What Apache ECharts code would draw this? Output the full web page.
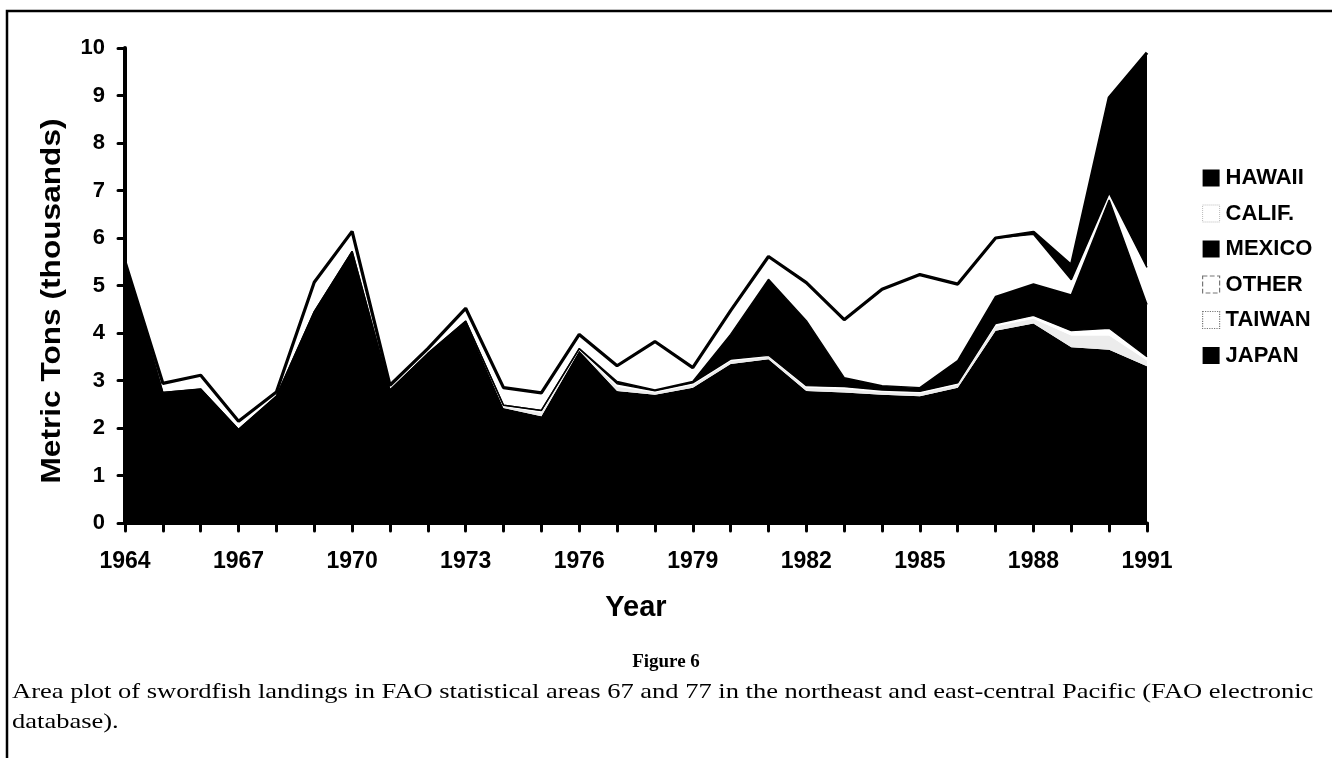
<!DOCTYPE html>
<html>
<head>
<meta charset="utf-8">
<script src="https://cdn.jsdelivr.net/npm/echarts@6/dist/echarts.min.js"></script>
<style>
  html, body { margin: 0; padding: 0; background: #fff; }
  #main { width: 1332px; height: 758px; }
</style>
</head>
<body>
<div id="main"></div>
<script>
// landings, thousands of metric tons
var years = ['1964', '1965', '1966', '1967', '1968', '1969', '1970', '1971', '1972', '1973',
  '1974', '1975', '1976', '1977', '1978', '1979', '1980', '1981', '1982', '1983',
  '1984', '1985', '1986', '1987', '1988', '1989', '1990', '1991']
var japan = [5.5, 2.75, 2.82, 1.97, 2.67, 4.45, 5.72, 2.8, 3.57, 4.25,
  2.42, 2.25, 3.63, 2.78, 2.7, 2.85, 3.35, 3.45, 2.78, 2.75,
  2.7, 2.67, 2.85, 4.05, 4.2, 3.7, 3.65, 3.3]
var taiwan = [0, 0, 0, 0, 0, 0, 0, 0, 0, 0,
  0.04, 0.07, 0.02, 0.09, 0.05, 0.06, 0.06, 0.05, 0.07, 0.07,
  0.06, 0.06, 0.06, 0.09, 0.1, 0.25, 0.3, 0.12]
var other = [0, 0, 0, 0, 0, 0, 0, 0, 0, 0,
  0.02, 0.05, 0.02, 0.06, 0.03, 0.04, 0.04, 0.03, 0.04, 0.05,
  0.04, 0.04, 0.04, 0.06, 0.07, 0.1, 0.15, 0.08]
var mexico = [0, 0, 0, 0, 0, 0, 0, 0, 0, 0,
  0, 0, 0, 0.05, 0.02, 0.03, 0.52, 1.6, 1.37, 0.19,
  0.09, 0.08, 0.47, 0.57, 0.66, 0.75, 2.7, 1.1]
var calif = [0, 0.19, 0.29, 0.17, 0.09, 0.62, 0.42, 0.1, 0.1, 0.27,
  0.37, 0.37, 0.3, 0.33, 1.02, 0.29, 0.5, 0.48, 0.8, 1.22,
  2.03, 2.38, 1.61, 1.23, 1.05, 0.32, 0.15, 0.78]
var hawaii = [0, 0, 0, 0, 0, 0, 0, 0, 0, 0,
  0, 0, 0, 0, 0, 0, 0, 0, 0, 0,
  0, 0, 0, 0, 0.04, 0.3, 2.0, 4.52]

var sans = 'Liberation Sans'
var serif = 'Liberation Serif'

function area (name, data, fill, lineW) {
  return {
    name: name,
    type: 'line',
    stack: 'all',
    data: data,
    symbol: 'none',
    itemStyle: { color: fill },
    lineStyle: { color: '#000', width: lineW },
    areaStyle: { color: fill, opacity: 1 }
  }
}

var myChart = echarts.init(document.getElementById('main'))
var option = {
  animation: false,
  backgroundColor: '#fff',
  graphic: [
    {
      type: 'rect',
      shape: { x: 7, y: 11, width: 1360, height: 780 },
      style: { fill: null, stroke: '#000', lineWidth: 2.5 }
    },
    {
      // y axis title, stretched a little like the printed one
      type: 'text',
      x: 52,
      y: 301,
      rotation: Math.PI / 2,
      scaleX: 1.13,
      style: {
        text: 'Metric Tons (thousands)',
        font: 'bold 28px "Liberation Sans"',
        fill: '#000',
        align: 'center',
        verticalAlign: 'middle'
      }
    },
    {
      type: 'text',
      x: 666,
      y: 662,
      style: {
        text: 'Figure 6',
        font: 'bold 19px "Liberation Serif"',
        fill: '#000',
        align: 'center',
        verticalAlign: 'middle'
      }
    },
    {
      type: 'text',
      x: 12,
      y: 692,
      scaleX: 1.205,
      style: {
        text: 'Area plot of swordfish landings in FAO statistical areas 67 and 77 in the northeast and east-central Pacific (FAO electronic',
        font: '22px "Liberation Serif"',
        fill: '#000',
        align: 'left',
        verticalAlign: 'middle'
      }
    },
    {
      type: 'text',
      x: 12,
      y: 722,
      scaleX: 1.205,
      style: {
        text: 'database).',
        font: '22px "Liberation Serif"',
        fill: '#000',
        align: 'left',
        verticalAlign: 'middle'
      }
    }
  ],
  legend: {
    orient: 'vertical',
    left: 1197,
    top: 162,
    itemWidth: 17,
    itemHeight: 17,
    itemGap: 13.5,
    icon: 'rect',
    textStyle: { fontFamily: sans, fontWeight: 'bold', fontSize: 22, color: '#000', lineHeight: 18, padding: [0, 0, 0, 1] },
    data: [
      { name: 'HAWAII', itemStyle: { color: '#000', borderWidth: 0 } },
      { name: 'CALIF.', itemStyle: { color: '#fff', borderColor: '#bbb', borderWidth: 1, borderType: 'dotted' } },
      { name: 'MEXICO', itemStyle: { color: '#000', borderWidth: 0 } },
      { name: 'OTHER', itemStyle: { color: '#fff', borderColor: '#777', borderWidth: 1.2, borderType: 'dashed' } },
      { name: 'TAIWAN', itemStyle: { color: '#fff', borderColor: '#777', borderWidth: 1.2, borderType: 'dotted' } },
      { name: 'JAPAN', itemStyle: { color: '#000', borderWidth: 0 } }
    ]
  },
  grid: {
    left: 125,
    right: 185,
    top: 48,
    bottom: 235,
    containLabel: false
  },
  xAxis: {
    type: 'category',
    data: years,
    boundaryGap: false,
    name: 'Year',
    nameLocation: 'middle',
    nameGap: 70,
    nameTextStyle: { fontFamily: sans, fontWeight: 'bold', fontSize: 29, color: '#000' },
    axisLine: { lineStyle: { color: '#000', width: 3 } },
    axisTick: { interval: 0, length: 8, lineStyle: { color: '#000', width: 3, cap: 'round' } },
    axisLabel: { interval: 2, margin: 27, fontFamily: sans, fontWeight: 'bold', fontSize: 23, color: '#000' },
    splitLine: { show: false }
  },
  yAxis: {
    type: 'value',
    min: 0,
    max: 10,
    interval: 1,
    axisLine: { show: true, lineStyle: { color: '#000', width: 4 } },
    axisTick: { show: true, length: 7, lineStyle: { color: '#000', width: 3, cap: 'round' } },
    axisLabel: { margin: 20, fontFamily: sans, fontWeight: 'bold', fontSize: 22, color: '#000' },
    splitLine: { show: false }
  },
  series: [
    area('JAPAN', japan, '#000', 0),
    area('TAIWAN', taiwan, '#ececec', 0),
    area('OTHER', other, '#fff', 1.3),
    area('MEXICO', mexico, '#000', 1.5),
    area('CALIF.', calif, '#fff', 1.5),
    area('HAWAII', hawaii, '#000', 3.2)
  ]
}
myChart.setOption(option)
</script>
</body>
</html>
